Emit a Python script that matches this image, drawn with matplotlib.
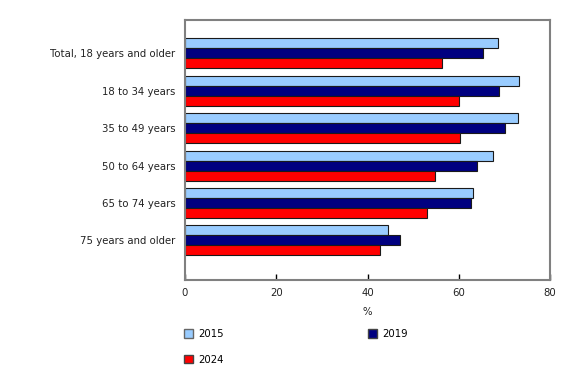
import matplotlib
matplotlib.use("Agg")
import matplotlib.pyplot as plt
import numpy as np
from matplotlib.patches import Patch

categories = ["Total, 18 years and older", "18 to 34 years", "35 to 49 years",
              "50 to 64 years", "65 to 74 years", "75 years and older"]
v2015 = [68.6, 73.3, 72.9, 67.6, 63.2, 44.5]
v2019 = [65.4, 68.8, 70.1, 64.1, 62.6, 47.2]
v2024 = [56.3, 60.1, 60.3, 54.7, 53.1, 42.7]
series_names = ["2015", "2019", "2024"]
colors = ["#99CCFF", "#000080", "#FF0000"]
xticks = [0, 20, 40, 60, 80]

plt.rcParams['font.family'] = ['DejaVu Sans']
fs = 7.3

fig = plt.figure(figsize=(5.8, 3.7), dpi=100)
ax = fig.add_axes([185/580, 1-280/370, (550-185)/580, (280-20)/370])

y = np.arange(len(categories))
h = 0.267
offs = [-h, 0, h]
for vals, c, o, name in zip([v2015, v2019, v2024], colors, offs, series_names):
    ax.barh(y + o, vals, height=h, color=c, edgecolor="#1a1a1a", linewidth=0.8, label=name)

ax.set_ylim(6.06, -0.89)
ax.set_xlim(0, 80)
ax.set_yticks(y)
ax.set_yticklabels(categories, fontsize=fs, color="#222222")
ax.set_xticks(xticks)
ax.set_xticklabels([str(t) for t in xticks], fontsize=fs, color="#222222")
ax.tick_params(axis='y', length=0, pad=7)
ax.tick_params(axis='x', direction='in', length=4, width=1, color='black', pad=6)
for s in ax.spines.values():
    s.set_color('#808080')
    s.set_linewidth(1.5)
ax.set_xlabel("%", fontsize=fs, color="#222222", labelpad=6)

handles = [Patch(facecolor=colors[0], edgecolor='#666666', linewidth=1),
           Patch(facecolor=colors[2], edgecolor='#444444', linewidth=1),
           Patch(facecolor=colors[1], edgecolor='#444444', linewidth=1)]
labels = [series_names[0], series_names[2], series_names[1]]
fig.legend(handles, labels, loc='upper left', bbox_to_anchor=(184/580, 1-329/370),
           ncol=2, frameon=False, fontsize=fs, handlelength=0.9, handleheight=0.9,
           handletextpad=0.5, columnspacing=14.2, labelspacing=1.55, borderpad=0,
           borderaxespad=0)

fig.savefig("out.png", dpi=100)
